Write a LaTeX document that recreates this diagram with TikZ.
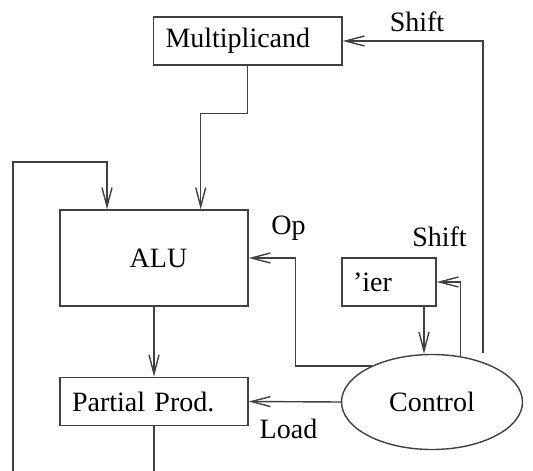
\documentclass[tikz,border=0pt]{standalone}
\usepackage{fontspec}
\setmainfont{Liberation Serif}
\usetikzlibrary{arrows.meta,shapes.geometric}

\begin{document}
\begin{tikzpicture}[x=1pt,y=-1pt,
  font=\fontsize{28}{34}\selectfont,
  wire/.style={draw=black!75, line width=1.4pt},
  arr/.style={wire, -{Straight Barb[length=19pt,width=10pt,line width=1.4pt]}},
  regbox/.style={draw=black!75, line width=1.4pt, rectangle, inner sep=0pt},
  lefttext/.style={align=left, inner xsep=12pt, inner ysep=0pt},
  tag/.style={inner sep=0pt, anchor=base}]
  \useasboundingbox (0,0) rectangle (533,471);

  % registers and the ALU
  \node[regbox, lefttext, text width=164.5pt, minimum height=48pt] (mult) at (247.75,41) {Multiplicand};
  \node[regbox, minimum width=188pt, minimum height=96pt] (alu) at (154,258) {\hspace*{9pt}ALU};
  \node[regbox, lefttext, text width=164pt, minimum height=48.5pt] (pp) at (154,401.5) {Partial Prod.};
  \node[regbox, lefttext, inner xsep=11pt, text width=72pt, minimum height=48pt] (ier) at (389,282) {'ier};

  % control unit
  \node[ellipse, draw=black!75, line width=1.4pt, minimum width=181pt, minimum height=95pt, inner sep=0pt] (ctrl) at (432,402) {Control};

  % free ends of the open wires
  \coordinate (fbin) at (13,471);
  \coordinate (fbtop) at (13,162);
  \coordinate (ppout) at (154,471);
  \coordinate (shsrc) at (483,353);

  % data paths
  \draw[arr] (mult.south) -- ++(0,48) -| ([xshift=46.7pt]alu.north);
  \draw[arr] (fbin) -- (fbtop) -| ([xshift=-47pt]alu.north);
  \draw[arr] (alu.south) -- (pp.north);
  \draw[wire] (pp.south) -- (ppout);
  \draw[arr] ([xshift=35pt]ier.south) -- ([xshift=35pt]ier.south |- ctrl.north);

  % control signals
  \draw[arr] (shsrc) |- (mult.east);
  \draw[arr] (ctrl.58) |- (ier.east);
  \draw[arr] (ctrl.149) -| ([xshift=47pt]alu.east) -- (alu.east);
  \draw[arr] (ctrl.west) -- (pp.east);

  % signal labels
  \node[tag] (lshift1) at (417,31) {Shift};
  \node[tag] (lshift2) at (439.5,246) {Shift};
  \node[tag] (lop) at (288.5,234) {Op};
  \node[tag] (lload) at (288.5,438) {Load};
\end{tikzpicture}
\end{document}
